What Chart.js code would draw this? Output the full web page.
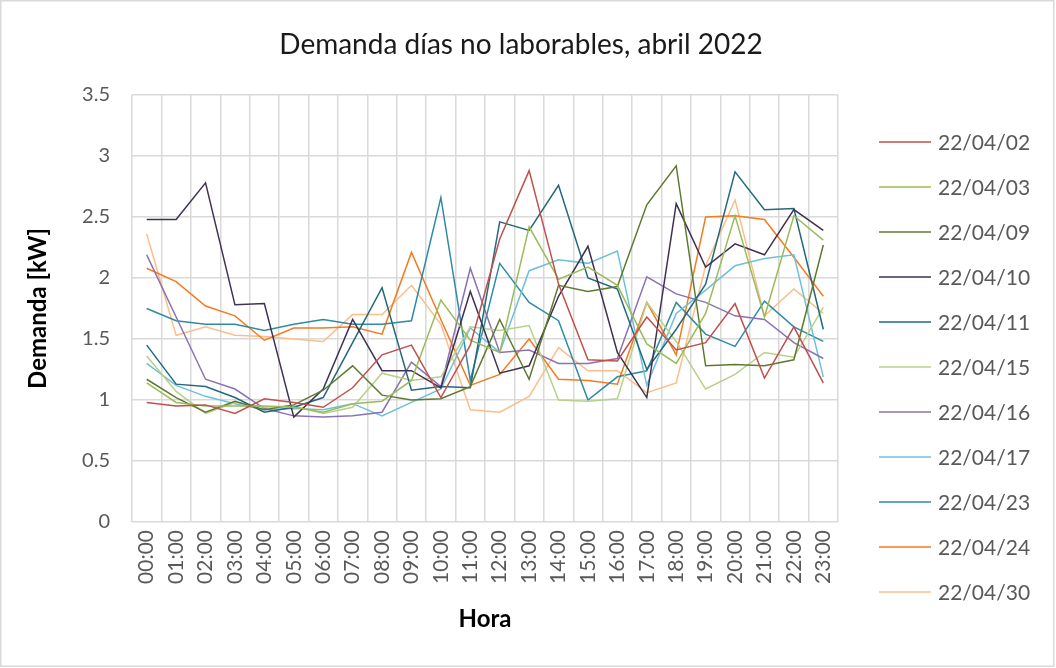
<!DOCTYPE html>
<html>
<head>
<meta charset="utf-8">
<script src="https://cdn.jsdelivr.net/npm/chart.js@4/dist/chart.umd.min.js"></script>
<style>
  html, body { margin: 0; padding: 0; background: #ffffff; }
  #wrap { position: relative; width: 1056px; height: 668px; }
</style>
</head>
<body>
<div id="wrap"><canvas id="chart" width="1056" height="668"></canvas></div>
<script>
// Hourly categories
const hours = ['00:00','01:00','02:00','03:00','04:00','05:00','06:00','07:00',
               '08:00','09:00','10:00','11:00','12:00','13:00','14:00','15:00',
               '16:00','17:00','18:00','19:00','20:00','21:00','22:00','23:00'];

// Non-working days of April 2022
const dayLabels = ['22/04/02','22/04/03','22/04/09','22/04/10','22/04/11','22/04/15',
                   '22/04/16','22/04/17','22/04/23','22/04/24','22/04/30'];

// Hourly demand [kW] for each day
const d0402 = [0.98,0.95,0.96,0.89,1.01,0.98,0.94,1.10,1.37,1.45,1.02,1.45,2.32,2.88,1.95,1.33,1.32,1.68,1.41,1.47,1.79,1.18,1.60,1.14];
const d0403 = [1.14,0.98,0.95,0.95,0.95,0.94,0.90,0.97,0.99,1.16,1.82,1.49,1.39,2.42,1.99,2.09,1.94,1.46,1.30,1.71,2.51,1.68,2.51,2.31];
const d0409 = [1.17,1.02,0.90,0.99,0.92,0.96,1.08,1.28,1.04,1.00,1.01,1.11,1.66,1.17,1.94,1.89,1.93,2.60,2.92,1.28,1.29,1.28,1.33,2.27];
const d0410 = [2.48,2.48,2.78,1.78,1.79,0.86,1.09,1.66,1.24,1.24,1.10,1.89,1.22,1.28,1.85,2.26,1.39,1.02,2.61,2.09,2.28,2.19,2.56,2.39];
const d0411 = [1.45,1.13,1.11,1.02,0.90,0.94,1.02,1.47,1.92,1.08,1.11,1.10,2.46,2.39,2.76,2.00,1.91,1.25,1.58,1.95,2.87,2.56,2.57,1.58];
const d0415 = [1.36,1.07,0.89,0.98,0.94,0.95,0.89,0.94,1.22,1.16,1.19,1.60,1.57,1.61,1.00,0.99,1.01,1.80,1.48,1.09,1.21,1.39,1.35,1.76];
const d0416 = [2.19,1.68,1.17,1.09,0.93,0.87,0.86,0.87,0.90,1.31,1.11,2.08,1.39,1.41,1.30,1.30,1.34,2.01,1.87,1.80,1.69,1.66,1.47,1.34];
const d0417 = [1.30,1.12,1.03,0.97,0.92,0.93,0.92,0.97,0.87,0.98,1.09,1.59,1.39,2.06,2.15,2.12,2.22,1.12,1.71,1.90,2.10,2.16,2.19,1.19];
const d0423 = [1.75,1.65,1.62,1.62,1.57,1.62,1.66,1.62,1.62,1.65,2.66,1.16,2.12,1.80,1.65,1.00,1.19,1.24,1.80,1.54,1.44,1.81,1.60,1.48];
const d0424 = [2.08,1.97,1.77,1.69,1.49,1.59,1.59,1.60,1.54,2.21,1.66,1.12,1.21,1.50,1.17,1.16,1.13,1.80,1.37,2.50,2.51,2.48,2.17,1.85];
const d0430 = [2.36,1.53,1.60,1.53,1.52,1.50,1.48,1.70,1.70,1.94,1.62,0.92,0.90,1.03,1.43,1.24,1.24,1.06,1.14,2.10,2.64,1.69,1.91,1.71];

const dayValues = [d0402,d0403,d0409,d0410,d0411,d0415,d0416,d0417,d0423,d0424,d0430];

// Line colours, one per day
const lineColors = ['#C0504D','#9BBB59','#5F7A30','#403152','#23687B','#B7D08A',
                    '#8B72B5','#6EC1D8','#2F8BA3','#F47B20','#FBBE8A'];

const FONT = 'Lato, "Open Sans", "Liberation Sans", sans-serif';

// Outer frame, chart title and right-hand legend
const decorations = {
  id: 'decorations',
  beforeDraw(chart) {
    const ctx = chart.ctx;
    ctx.save();
    ctx.fillStyle = '#ffffff';
    ctx.fillRect(0, 0, chart.width, chart.height);
    ctx.restore();
  },
  afterDraw(chart) {
    const ctx = chart.ctx;
    ctx.save();
    ctx.strokeStyle = '#D9D9D9';
    ctx.lineWidth = 1.5;
    ctx.strokeRect(0.75, 0.75, chart.width - 3, chart.height - 2.5);

    ctx.fillStyle = '#1a1a1a';
    ctx.font = '28px ' + FONT;
    ctx.textAlign = 'center';
    ctx.textBaseline = 'middle';
    ctx.fillText('Demanda días no laborables, abril 2022', 521, 45);

    ctx.font = '21px ' + FONT;
    ctx.textAlign = 'left';
    chart.data.datasets.forEach((ds, i) => {
      const y = 142 + 45 * i;
      ctx.strokeStyle = ds.borderColor;
      ctx.lineWidth = 1.5;
      ctx.beginPath();
      ctx.moveTo(879, y);
      ctx.lineTo(931, y);
      ctx.stroke();
      ctx.fillStyle = '#595959';
      ctx.fillText(ds.label, 938, y + 1);
    });
    ctx.restore();
  }
};

new Chart(document.getElementById('chart'), {
  type: 'line',
  data: {
    labels: hours,
    datasets: dayLabels.map((name, i) => ({
      label: name,
      data: dayValues[i],
      borderColor: lineColors[i],
      backgroundColor: lineColors[i],
      borderWidth: 1.5,
      pointRadius: 0,
      tension: 0,
      fill: false
    }))
  },
  options: {
    responsive: false,
    animation: false,
    layout: { padding: { left: 0, right: 218, top: 95, bottom: 0 } },
    plugins: {
      legend: { display: false },
      title: { display: false },
      tooltip: { enabled: false }
    },
    scales: {
      x: {
        offset: true,
        grid: { offset: true, color: '#D9D9D9', lineWidth: 1.5, drawTicks: false },
        border: { display: false },
        ticks: {
          minRotation: 90, maxRotation: 90, autoSkip: false,
          padding: 8, color: '#595959',
          font: { family: FONT, size: 21 }
        },
        title: {
          display: true, text: 'Hora', color: '#000000',
          font: { family: FONT, size: 24, weight: 'bold' },
          padding: { top: 0, bottom: 34 }
        },
        afterFit(scale) { scale.height = 146; }
      },
      y: {
        min: 0, max: 3.5,
        grid: { color: '#D9D9D9', lineWidth: 1.5, drawTicks: false },
        border: { display: false },
        ticks: {
          stepSize: 0.5, padding: 22, color: '#595959',
          font: { family: FONT, size: 20 },
          callback: (value) => String(Number(value.toFixed(1)))
        },
        title: {
          display: true, text: 'Demanda [kW]', color: '#000000',
          font: { family: FONT, size: 24, weight: 'bold' },
          padding: { top: 24, bottom: 0 }
        },
        afterFit(scale) { scale.width = 132; }
      }
    }
  },
  plugins: [decorations]
});
</script>
</body>
</html>
